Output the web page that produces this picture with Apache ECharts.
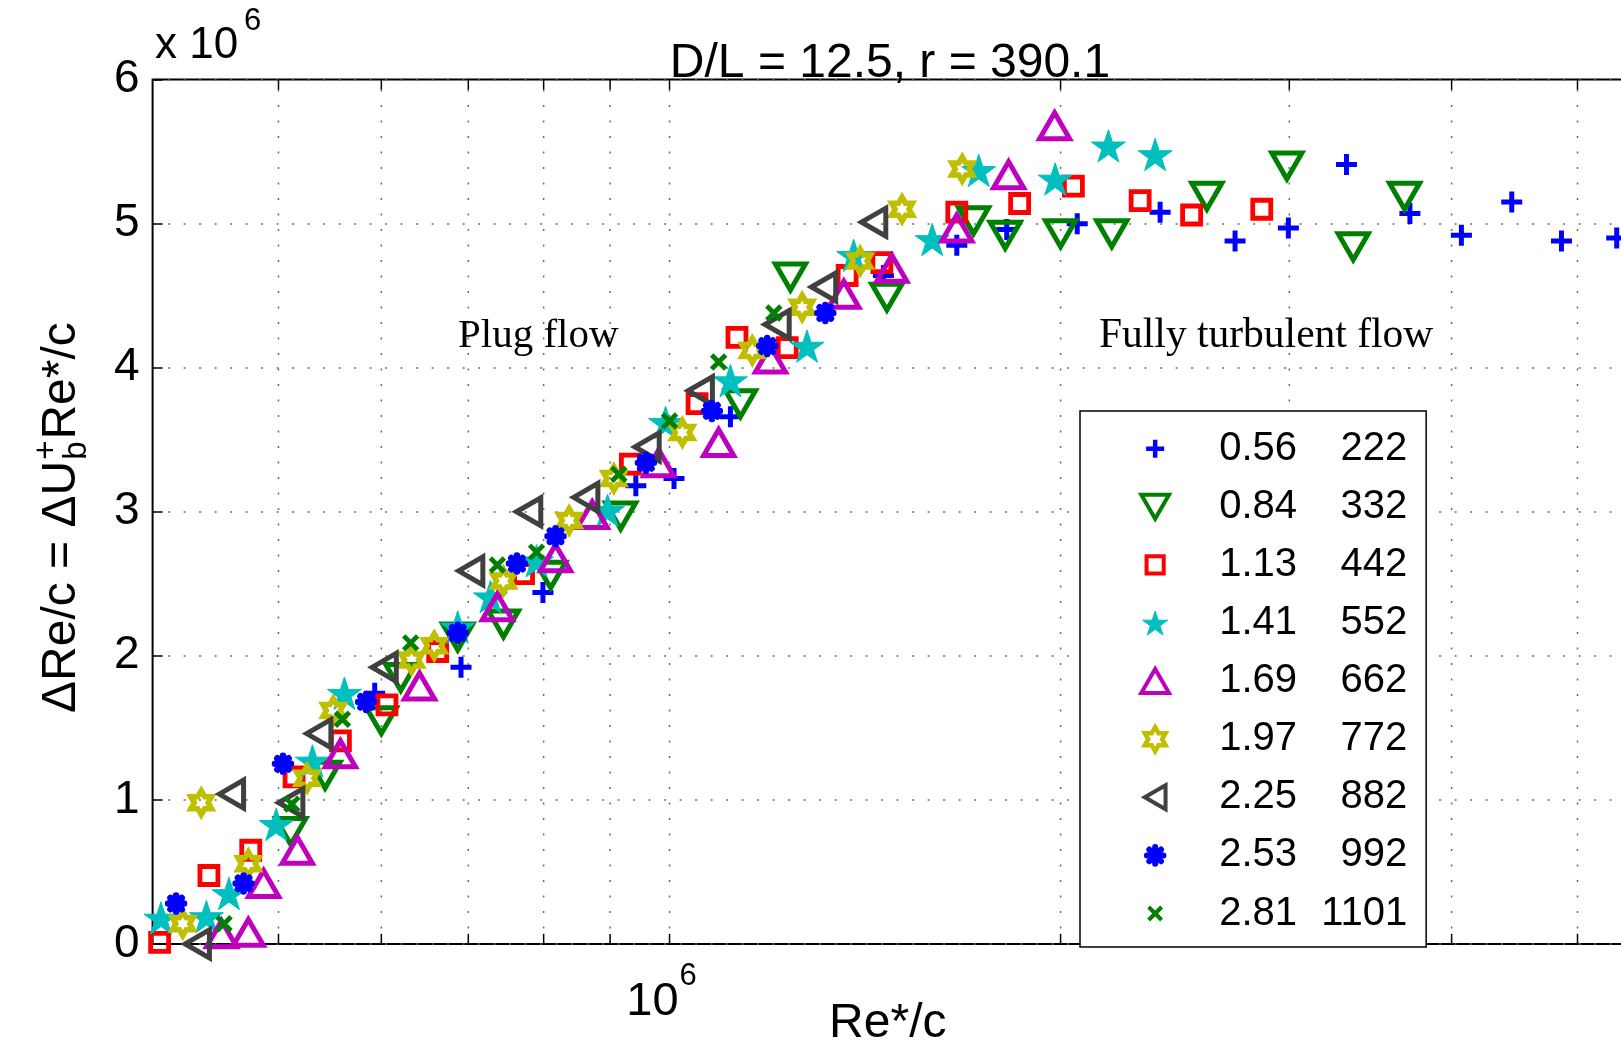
<!DOCTYPE html>
<html><head><meta charset="utf-8">
<script src="https://cdn.jsdelivr.net/npm/echarts@6.0.0/dist/echarts.min.js"></script>
<style>html,body{margin:0;padding:0;background:#fff;overflow:hidden}#c{width:1621px;height:1045px}</style>
</head><body><div id="c"></div>
<script>
// ---------------- data (x = Re*/c, y = ΔRe/c in units of 10^6) ----------------
const legendCol1 = ['0.56', '0.84', '1.13', '1.41', '1.69', '1.97', '2.25', '2.53', '2.81'];
const legendCol2 = ['222', '332', '442', '552', '662', '772', '882', '992', '1101'];

const x_056 = [5.93e5, 6.91e5, 7.99e5, 9.42e5, 1.008e6, 1.114e6, 1.461e6, 1.664e6, 1.818e6, 2.06e6, 2.386e6, 2.725e6, 2.995e6, 3.32e6, 3.715e6, 4.07e6, 4.45e6, 4.86e6, 5.36e6];
const y_056 = [1.74, 1.92, 2.44, 3.18, 3.23, 3.66, 4.64, 4.85, 4.96, 5.00, 5.08, 4.88, 4.97, 5.41, 5.07, 4.92, 5.15, 4.88, 4.90];

const x_084 = [5.11e5, 5.43e5, 6.0e5, 6.21e5, 6.87e5, 7.45e5, 8.1e5, 9.17e5, 1.134e6, 1.239e6, 1.47e6, 1.714e6, 1.813e6, 2.0e6, 2.19e6, 2.592e6, 2.987e6, 3.36e6, 3.68e6];
const y_084 = [0.78, 1.17, 1.55, 1.85, 2.13, 2.22, 2.56, 2.97, 3.75, 4.63, 4.49, 5.02, 4.92, 4.93, 4.93, 5.19, 5.40, 4.84, 5.19];

const x_113 = [4.05e5, 4.42e5, 4.76e5, 5.14e5, 5.58e5, 6.06e5, 6.63e5, 7.72e5, 9.33e5, 1.05e6, 1.127e6, 1.232e6, 1.37e6, 1.457e6, 1.664e6, 1.86e6, 2.046e6, 2.303e6, 2.523e6, 2.857e6];
const y_113 = [0.01, 0.475, 0.65, 1.16, 1.41, 1.66, 2.03, 2.57, 3.33, 3.75, 4.21, 4.14, 4.64, 4.73, 5.08, 5.14, 5.26, 5.16, 5.06, 5.10];

const x_141 = [4.06e5, 4.4e5, 4.58e5, 4.98e5, 5.31e5, 5.62e5, 6.87e5, 7.28e5, 7.9e5, 8.96e5, 9.93e5, 1.114e6, 1.276e6, 1.386e6, 1.593e6, 1.73e6, 1.981e6, 2.177e6, 2.365e6];
const y_141 = [0.18, 0.19, 0.35, 0.83, 1.27, 1.74, 2.20, 2.41, 2.66, 3.01, 3.62, 3.91, 4.15, 4.78, 4.89, 5.37, 5.31, 5.54, 5.48];

const x_169 = [4.52e5, 4.74e5, 4.87e5, 5.17e5, 5.58e5, 6.42e5, 7.37e5, 8.17e5, 8.72e5, 9.81e5, 1.091e6, 1.196e6, 1.362e6, 1.483e6, 1.664e6, 1.824e6, 1.979e6];
const y_169 = [0.07, 0.08, 0.42, 0.65, 1.32, 1.79, 2.34, 2.68, 2.98, 3.34, 3.48, 4.06, 4.51, 4.69, 4.97, 5.34, 5.68];

const x_197 = [4.22e5, 4.36e5, 4.74e5, 5.26e5, 5.51e5, 6.33e5, 6.59e5, 7.45e5, 8.37e5, 9.06e5, 1.023e6, 1.158e6, 1.265e6, 1.402e6, 1.51e6, 1.68e6];
const y_197 = [0.14, 0.98, 0.556, 1.15, 1.62, 1.97, 2.07, 2.52, 2.94, 3.23, 3.55, 4.12, 4.42, 4.74, 5.10, 5.38];

const x_225 = [4.33e5, 4.6e5, 5.11e5, 5.37e5, 6.03e5, 7.03e5, 7.79e5, 8.62e5, 9.61e5, 1.056e6, 1.21e6, 1.314e6, 1.436e6];
const y_225 = [0.0, 1.04, 0.98, 1.46, 1.92, 2.59, 3.00, 3.10, 3.45, 3.84, 4.30, 4.56, 5.01];

const x_253 = [4.17e5, 4.7e5, 5.04e5, 5.84e5, 6.87e5, 7.63e5, 8.17e5, 9.59e5, 1.078e6, 1.189e6, 1.318e6];
const y_253 = [0.28, 0.42, 1.25, 1.68, 2.16, 2.64, 2.83, 3.34, 3.70, 4.15, 4.38];

const x_281 = [4.54e5, 5.12e5, 5.6e5, 6.32e5, 7.37e5, 7.9e5, 9.14e5, 1.0e6, 1.091e6, 1.203e6];
const y_281 = [0.14, 0.97, 1.56, 2.09, 2.63, 2.72, 3.26, 3.63, 4.04, 4.38];

// axes
const xMin = 4e5, xMax = 5.42e6;
const yMin = 0, yMax = 6, yStep = 1;
const xGridValues = [5e5, 6e5, 7e5, 8e5, 9e5, 1e6, 2e6, 3e6, 4e6, 5e6];
const xLabelledValues = [1e6];  // shown as 10^6
const titleText = 'D/L = 12.5, r = 390.1';

// ---------------- styling ----------------
const SANS = '"Liberation Sans", Arial, Helvetica, sans-serif';
const SERIF = '"Liberation Serif", "Times New Roman", serif';
const PLUS = 'path://M0,10L20,10M10,0L10,20';
const SQUARE = 'path://M0,0L20,0L20,20L0,20Z';
const DOWN_TRI = 'path://M0,0L20,0L10,17.32Z';
const UP_TRI = 'path://M10,0L20,17.32L0,17.32Z';
const LEFT_TRI = 'path://M0,10L17.32,0L17.32,20Z';
const STAR = 'path://M0,-10L2.245,-3.09L9.511,-3.09L3.633,1.18L5.878,8.09L0,3.82L-5.878,8.09L-3.633,1.18L-9.511,-3.09L-2.245,-3.09Z';
const HEX = 'path://M0,-10L2.887,-5L8.66,-5L5.774,0L8.66,5L2.887,5L0,10L-2.887,5L-8.66,5L-5.774,0L-8.66,-5L-2.887,-5Z';
const AST = 'path://M10,0L10,20M0,10L20,10M2.93,2.93L17.07,17.07M17.07,2.93L2.93,17.07';
const CROSS = 'path://M0,0L20,20M20,0L0,20';
// legend icons: same glyphs with invisible padding (moveTo points) to size them in the legend box
function pad(p, a) { return 'path://M' + (-a) + ',' + (-a) + 'M' + (20 + a) + ',' + (20 + a) + p.slice(7); }

const seriesData = [
  [x_056, y_056], [x_084, y_084], [x_113, y_113], [x_141, y_141], [x_169, y_169],
  [x_197, y_197], [x_225, y_225], [x_253, y_253], [x_281, y_281]
];
const markers = [
  {symbol: PLUS, size: 21, fill: 'none', stroke: '#0000ff', width: 5, icon: pad(PLUS, 3.3), iw: 4.5},
  {symbol: DOWN_TRI, size: 30, fill: 'none', stroke: '#008000', width: 5, icon: DOWN_TRI, iw: 4},
  {symbol: SQUARE, size: 18, fill: 'none', stroke: '#ff0000', width: 4.8, icon: pad(SQUARE, 4), iw: 4},
  {symbol: STAR, size: 34, fill: '#00bfbf', stroke: '#00bfbf', width: 1, icon: STAR, iw: 1},
  {symbol: UP_TRI, size: 30, fill: 'none', stroke: '#bf00bf', width: 5, icon: UP_TRI, iw: 4},
  {symbol: HEX, size: 24, fill: 'none', stroke: '#bfbf00', width: 5.5, icon: HEX, iw: 4.5},
  {symbol: LEFT_TRI, size: 28, fill: 'none', stroke: '#404040', width: 5, icon: LEFT_TRI, iw: 4},
  {symbol: AST, size: 16, fill: 'none', stroke: '#0000ff', width: 6.5, cap: 'round', icon: pad(AST, 4.5), iw: 6},
  {symbol: CROSS, size: 14, fill: 'none', stroke: '#008000', width: 4.8, icon: pad(CROSS, 8.5), iw: 4}
];

const names = legendCol1.map((a, i) => a + ' ' + legendCol2[i]);

const scatterSeries = seriesData.map(([xs, ys], i) => ({
  name: names[i],
  type: 'scatter',
  data: xs.map((x, k) => [x, ys[k]]),
  symbol: markers[i].symbol,
  symbolSize: markers[i].size,
  symbolKeepAspect: true,
  clip: false,
  z: 3,
  itemStyle: {
    color: markers[i].fill, borderColor: markers[i].stroke,
    borderWidth: markers[i].width, borderCap: markers[i].cap || 'butt',
    borderJoin: 'miter', opacity: 1
  },
  emphasis: {disabled: true}
}));

const gridSeries = {
  type: 'custom', name: '__grid', silent: true, clip: false, z: 1,
  data: xGridValues.map(v => [v, yMin]),
  renderItem: function (params, api) {
    const xv = api.value(0);
    const pb = api.coord([xv, yMin]);
    const pt = api.coord([xv, yMax]);
    const ch = [
      {type: 'line', shape: {x1: pb[0], y1: pb[1], x2: pt[0], y2: pt[1]},
       style: {stroke: '#6a6a6a', lineWidth: 1.5, lineDash: [2, 13.5]}},
      {type: 'line', shape: {x1: pb[0], y1: pb[1], x2: pb[0], y2: pb[1] - 10},
       style: {stroke: '#000', lineWidth: 1.5}},
      {type: 'line', shape: {x1: pt[0], y1: pt[1], x2: pt[0], y2: pt[1] + 10},
       style: {stroke: '#000', lineWidth: 1.5}}
    ];
    if (xLabelledValues.indexOf(xv) >= 0) {
      const exp = Math.round(Math.log10(xv));
      ch.push({type: 'text', x: pb[0] + 9, y: pb[1] + 58,
        style: {text: '10', font: '47px ' + SANS, fill: '#000', align: 'right', verticalAlign: 'middle'}});
      ch.push({type: 'text', x: pb[0] + 10, y: pb[1] + 33,
        style: {text: String(exp), font: '31px ' + SANS, fill: '#000', align: 'left', verticalAlign: 'middle'}});
    }
    return {type: 'group', children: ch};
  }
};

// measure text for the stacked sub/superscript y label
const mctx = document.createElement('canvas').getContext('2d');
function tw(t, f) { mctx.font = f; return mctx.measureText(t).width; }
const yl1 = 'ΔRe/c = ΔU', yl2 = 'Re*/c';
const fBig = '48px ' + SANS, fSmall = '33px ' + SANS;
const w1 = tw(yl1, fBig);
const wS = Math.max(tw('b', fSmall), tw('+', fSmall));

const chart = echarts.init(document.getElementById('c'), null, {renderer: 'canvas'});
chart.setOption({
  animation: false,
  backgroundColor: '#fff',
  grid: {left: 152.6, right: -2, top: 79.6, bottom: 101.1, show: true,
         borderColor: '#000', borderWidth: 2, backgroundColor: '#fff',
         containLabel: false, outerBoundsMode: 'none'},
  xAxis: {
    type: 'log', logBase: 10, min: xMin, max: xMax,
    axisLine: {show: false}, axisTick: {show: false}, axisLabel: {show: false},
    splitLine: {show: false}, minorTick: {show: false},
    name: 'Re*/c', nameLocation: 'middle', nameGap: 56,
    nameTextStyle: {fontFamily: SANS, fontSize: 48, color: '#000'}
  },
  yAxis: {
    type: 'value', min: yMin, max: yMax, interval: yStep,
    axisLine: {show: false},
    axisTick: {show: true, inside: true, length: 10, lineStyle: {color: '#000', width: 1.5}},
    axisLabel: {fontFamily: SANS, fontSize: 46, color: '#000', margin: 13},
    splitLine: {show: true, lineStyle: {color: '#6a6a6a', width: 1.5, type: [2, 13.5]}}
  },
  legend: {
    data: names.map((n, i) => ({
      name: n, icon: markers[i].icon,
      itemStyle: {color: markers[i].fill, borderColor: markers[i].stroke,
                  borderWidth: markers[i].iw, borderCap: markers[i].cap || 'butt'}
    })),
    orient: 'vertical', left: 1080, top: 411,
    padding: [17.7, 19, 13.5, 58.8],
    itemWidth: 34, itemHeight: 24, itemGap: 18.1,
    backgroundColor: '#fff', borderColor: '#000', borderWidth: 1.5,
    selectedMode: false, z: 10,
    textStyle: {fontFamily: SANS, fontSize: 40, color: '#000', lineHeight: 40,
      rich: {
        s: {width: 42, fontSize: 40, lineHeight: 40, fontFamily: SANS},
        a: {width: 88, fontSize: 40, lineHeight: 40, fontFamily: SANS, color: '#000'},
        b: {width: 100, align: 'right', fontSize: 40, lineHeight: 40, fontFamily: SANS, color: '#000'}
      }},
    formatter: function (name) {
      const p = name.split(' ');
      return '{s| }{a|' + p[0] + '}{b|' + p[1] + '}';
    }
  },
  graphic: [
    {type: 'text', x: 890, y: 64, z: 20,
     style: {text: titleText, font: '48px ' + SANS, fill: '#000', align: 'center', verticalAlign: 'middle'}},
    {type: 'text', x: 155, y: 46, z: 20,
     style: {text: 'x 10', font: '44px ' + SANS, fill: '#000', align: 'left', verticalAlign: 'middle'}},
    {type: 'text', x: 244, y: 21, z: 20,
     style: {text: '6', font: '31px ' + SANS, fill: '#000', align: 'left', verticalAlign: 'middle'}},
    {type: 'text', x: 458, y: 336, z: 20,
     style: {text: 'Plug flow', font: '41px ' + SERIF, fill: '#000', align: 'left', verticalAlign: 'middle'}},
    {type: 'text', x: 1099, y: 336, z: 20,
     style: {text: 'Fully turbulent flow', font: '41.5px ' + SERIF, fill: '#000', align: 'left', verticalAlign: 'middle'}},
    {type: 'group', x: 62, y: 713, rotation: Math.PI / 2, z: 20, children: [
      {type: 'text', x: 0, y: 0, style: {text: yl1, font: fBig, fill: '#000', align: 'left', verticalAlign: 'middle'}},
      {type: 'text', x: w1 + 1, y: -15, style: {text: '+', font: fSmall, fill: '#000', align: 'left', verticalAlign: 'middle'}},
      {type: 'text', x: w1 + 1, y: 15, style: {text: 'b', font: fSmall, fill: '#000', align: 'left', verticalAlign: 'middle'}},
      {type: 'text', x: w1 + wS + 2, y: 0, style: {text: yl2, font: fBig, fill: '#000', align: 'left', verticalAlign: 'middle'}}
    ]}
  ],
  series: [gridSeries].concat(scatterSeries)
});
</script>
</body></html>
